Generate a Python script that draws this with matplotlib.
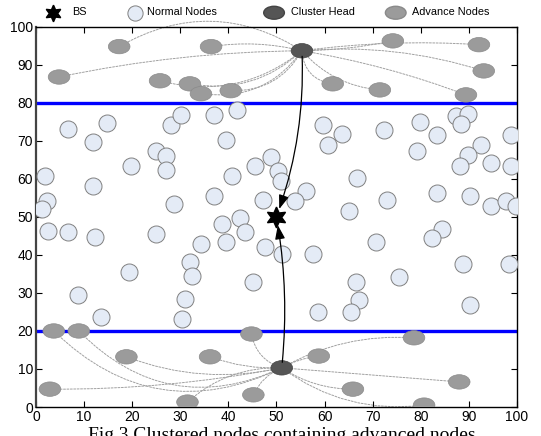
import numpy as np
import matplotlib
matplotlib.use('Agg')
import matplotlib.pyplot as plt
from matplotlib.patches import Ellipse

plt.rcParams['font.family'] = ['Liberation Sans', 'DejaVu Sans']

# normal nodes (x, y)
normal_x = [6.7, 11.8, 14.8, 24.9, 27.0, 27.0, 28.1, 30.2, 37.1, 41.7, 39.6, 19.7,
            1.9, 11.8, 2.3, 1.2, 28.6, 37.1, 40.8, 45.5, 48.9, 47.2, 2.5, 6.7,
            12.3, 24.9, 38.6, 42.4, 43.4, 34.4, 39.6, 47.6, 19.3, 8.7, 13.5, 32.0,
            32.4, 31.0, 30.4, 45.1, 50.3, 50.9, 56.1, 53.9, 59.7, 63.6, 60.7, 72.3,
            79.8, 83.4, 79.2, 87.3, 89.8, 88.4, 98.8, 92.5, 89.8, 88.1, 94.6, 98.8,
            66.7, 83.4, 90.2, 72.9, 65.1, 94.6, 97.7, 99.8, 84.4, 82.3, 70.7, 51.1,
            57.6, 66.5, 67.2, 65.5, 58.6, 75.5, 88.8, 98.3, 90.2]
normal_y = [73.2, 69.8, 74.8, 67.4, 66.1, 62.4, 74.1, 76.8, 76.8, 78.2, 70.2, 63.5,
            60.8, 58.2, 54.2, 52.2, 53.4, 55.5, 60.8, 63.5, 65.8, 54.4, 46.3, 46.0,
            44.8, 45.5, 48.2, 49.6, 46.0, 42.9, 43.5, 42.1, 35.5, 29.5, 23.7, 38.2,
            34.5, 28.4, 23.2, 32.9, 62.1, 59.5, 56.9, 54.2, 74.2, 71.8, 68.9, 72.9,
            75.0, 71.6, 67.4, 76.6, 77.1, 74.5, 71.6, 68.9, 66.3, 63.4, 64.2, 63.4,
            60.3, 56.3, 55.5, 54.5, 51.6, 52.9, 54.2, 52.9, 46.8, 44.5, 43.4, 40.3,
            40.3, 32.9, 28.2, 25.0, 25.0, 34.2, 37.6, 37.6, 26.8]

# advance nodes in the upper and lower zones
top_adv_x = [4.8, 17.3, 36.4, 25.8, 32.0, 34.3, 40.5, 74.2, 92.1, 93.1, 61.7, 71.5, 89.4]
top_adv_y = [86.8, 94.8, 94.8, 85.8, 85.0, 82.4, 83.2, 96.3, 95.3, 88.4, 85.0, 83.4, 82.1]
top_bend = [-0.05, -0.3, -0.1, 0.25, 0.25, 0.3, 0.3, -0.05, 0.05, 0.1, -0.4, -0.2, 0.05]

bot_adv_x = [3.7, 8.9, 18.8, 36.2, 44.8, 2.9, 31.5, 45.2, 78.6, 58.8, 88.0, 65.9, 80.7]
bot_adv_y = [20.0, 20.0, 13.2, 13.2, 19.2, 4.7, 1.3, 3.2, 18.2, 13.4, 6.6, 4.7, 0.5]
bot_bend = [0.35, 0.35, 0.15, 0.1, 0.3, 0.05, -0.2, -0.2, 0.15, 0.1, 0.0, -0.15, -0.2]

# cluster heads and base station
ch_x = [55.3, 51.1]
ch_y = [93.7, 10.3]
bs_x, bs_y = 50.0, 50.0
zone_lines = [80, 20]

fig = plt.figure(figsize=(5.41, 4.36), dpi=100)
ax = fig.add_axes([0.0665, 0.0665, 0.889, 0.872])
ax.set_xlim(0, 100)
ax.set_ylim(0, 100)

line_kw = dict(arrowstyle='-', color='#a0a0a0', lw=0.7, linestyle=(0, (2, 1.5)),
               shrinkA=0, shrinkB=0)
for (xs, ys, bends, k) in [(top_adv_x, top_adv_y, top_bend, 0), (bot_adv_x, bot_adv_y, bot_bend, 1)]:
    for x, y, r in zip(xs, ys, bends):
        ax.annotate('', xy=(ch_x[k], ch_y[k]), xytext=(x, y),
                    arrowprops=dict(connectionstyle='arc3,rad=%g' % r, **line_kw), zorder=1)

for y in zone_lines:
    ax.axhline(y, color='#0000ff', lw=2.4, zorder=2)

ax.scatter(normal_x, normal_y, s=150, facecolor='#e4ebf6', edgecolor='#808080',
           linewidth=0.7, zorder=3)

ew, eh = 4.5, 3.8
for x, y in zip(top_adv_x + bot_adv_x, top_adv_y + bot_adv_y):
    ax.add_patch(Ellipse((x, y), ew, eh, facecolor='#9b9b9b', edgecolor='#8a8a8a', lw=0.5, zorder=4))
for x, y in zip(ch_x, ch_y):
    ax.add_patch(Ellipse((x, y), ew, eh, facecolor='#555555', edgecolor='#444444', lw=0.5, zorder=4))

# CH -> BS paths
head = dict(arrowstyle='-|>,head_length=0.7,head_width=0.25', color='black', lw=0.9,
            shrinkA=4, shrinkB=6, mutation_scale=12)
ax.annotate('', xy=(bs_x, bs_y), xytext=(ch_x[0], ch_y[0]),
            arrowprops=dict(connectionstyle='arc3,rad=-0.1', **head), zorder=5)
ax.annotate('', xy=(bs_x, bs_y), xytext=(ch_x[1], ch_y[1]),
            arrowprops=dict(connectionstyle='arc3,rad=0.07', **head), zorder=5)

ax.plot(bs_x, bs_y, marker=(6, 1, 0), markersize=15, color='black', zorder=6)

ax.set_xticks(np.arange(0, 101, 10))
ax.set_yticks(np.arange(0, 101, 10))
ax.tick_params(direction='in', top=True, right=True, length=4, labelsize=10, pad=2)
for s in ax.spines.values():
    s.set_linewidth(1.0)
ax.spines['left'].set_linewidth(1.6)
ax.spines['left'].set_color('#444444')

# legend across the top
ly = 1.037
ax.plot(0.035, ly, marker=(6, 1, 0), markersize=12, color='black', transform=ax.transAxes, clip_on=False)
ax.scatter([0.206], [ly], s=120, facecolor='#e4ebf6', edgecolor='#808080', linewidth=0.7,
           transform=ax.transAxes, clip_on=False)
ax.add_patch(Ellipse((0.495, ly), 0.043, 0.034, facecolor='#555555', edgecolor='#444444',
                     transform=ax.transAxes, clip_on=False))
ax.add_patch(Ellipse((0.748, ly), 0.043, 0.034, facecolor='#9b9b9b', edgecolor='#8a8a8a',
                     transform=ax.transAxes, clip_on=False))
for tx, label in [(0.075, 'BS'), (0.231, 'Normal Nodes'), (0.530, 'Cluster Head'), (0.782, 'Advance Nodes')]:
    ax.text(tx, ly + 0.003, label, transform=ax.transAxes, fontsize=7.8, va='center', ha='left')

# caption, cut by the lower edge as in the source picture
fig.text(0.52, 0.021, 'Fig.3 Clustered nodes containing advanced nodes', family='Liberation Serif',
         fontsize=14, ha='center', va='top')

fig.savefig('out.png', dpi=100)
